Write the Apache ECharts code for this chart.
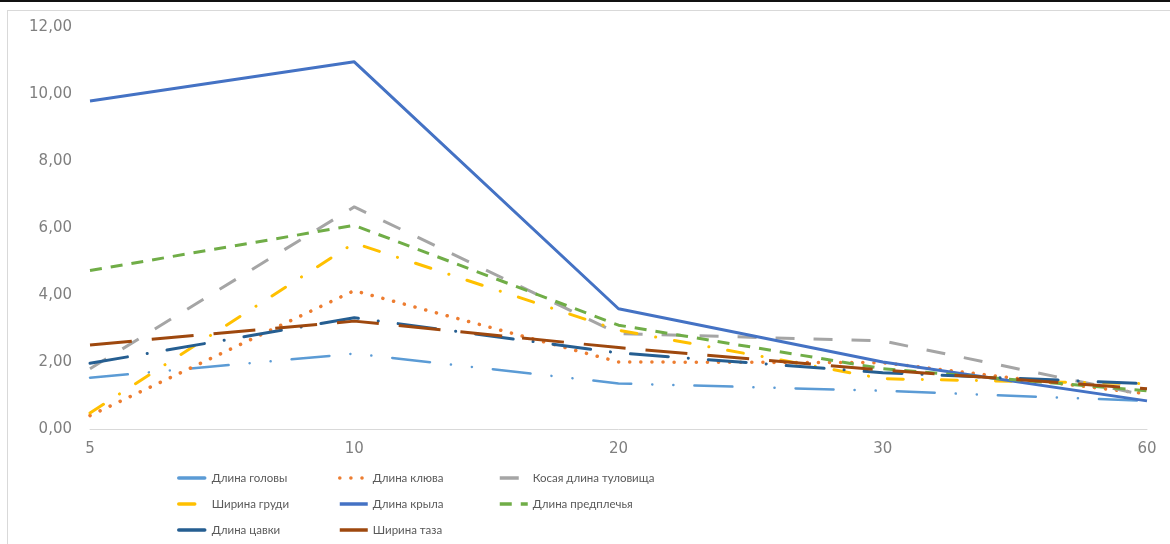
<!DOCTYPE html>
<html>
<head>
<meta charset="utf-8">
<title>Динамика промеров</title>
<script src="https://cdn.jsdelivr.net/npm/echarts@6/dist/echarts.min.js"></script>
<style>
  html, body { margin: 0; padding: 0; background: #fff; }
  #topline { position: absolute; left: 0; top: 0; width: 1170px; height: 2px; background: #111; }
  #frame { position: absolute; left: 7px; top: 10px; width: 1200px; height: 600px; border: 1px solid #d9d9d9; box-sizing: border-box; }
  #chart { position: absolute; left: 0; top: 0; width: 1170px; height: 544px; }
</style>
</head>
<body>
<div id="topline"></div>
<div id="frame"></div>
<div id="chart"></div>
<script>
// Age points (days) on the category axis
const categories = ['5', '10', '20', '30', '60'];

// Measurement series
const headLen     = [1.53, 2.25, 1.36, 1.14, 0.84];
const beakLen     = [0.40, 4.13, 2.00, 1.98, 1.05];
const bodyOblique = [1.80, 6.63, 2.85, 2.63, 1.00];
const chestWidth  = [0.48, 5.55, 2.95, 1.50, 1.35];
const wingLen     = [9.79, 10.96, 3.59, 2.00, 0.84];
const forearmLen  = [4.73, 6.08, 3.10, 1.80, 1.14];
const tarsusLen   = [1.96, 3.32, 2.27, 1.68, 1.35];
const pelvisWidth = [2.51, 3.22, 2.43, 1.76, 1.20];

// Colours and dash patterns for each series
const seriesDefs = [
  { name: 'Длина головы',         data: headLen,     color: '#5B9BD5', type: [38, 21, 0.1, 21, 0.1, 21], cap: 'round', width: 2.5 },
  { name: 'Длина клюва',          data: beakLen,     color: '#ED7D31', type: [0.1, 11],                  cap: 'round', width: 3.5 },
  { name: 'Косая длина туловища', data: bodyOblique, color: '#A5A5A5', type: [19, 19],                   cap: 'butt',  width: 3 },
  { name: 'Ширина груди',         data: chestWidth,  color: '#FFC000', type: [16, 19, 0.1, 19],          cap: 'round', width: 3 },
  { name: 'Длина крыла',          data: wingLen,     color: '#4472C4', type: 'solid',                    cap: 'butt',  width: 3 },
  { name: 'Длина предплечья',     data: forearmLen,  color: '#70AD47', type: [12, 9],                    cap: 'butt',  width: 3 },
  { name: 'Длина цавки',          data: tarsusLen,   color: '#255E91', type: [38, 20, 0.1, 20],          cap: 'round', width: 3 },
  { name: 'Ширина таза',          data: pelvisWidth, color: '#9E480E', type: [42, 20],                   cap: 'butt',  width: 3 }
];

const axisText = { color: '#7f7f7f', fontFamily: 'DejaVu Sans', fontSize: 15 };

function legendColumn(names, left, width, textPad) {
  return {
    orient: 'vertical',
    left: left,
    top: 467,
    itemWidth: width,
    itemHeight: 10,
    itemGap: 14,
    itemStyle: { opacity: 0 },
    lineStyle: { width: 3.5 },
    textStyle: { color: '#595959', fontFamily: 'Lato', fontSize: 11.5, padding: [0, 0, 0, textPad] },
    data: names
  };
}

const chart = echarts.init(document.getElementById('chart'));
chart.setOption({
  animation: false,
  backgroundColor: 'transparent',
  color: seriesDefs.map(s => s.color),
  grid: { left: 90, right: 23, top: 27, bottom: 115, containLabel: false },
  legend: [
    legendColumn(['Длина головы', 'Ширина груди', 'Длина цавки'], 172, 26, 2),
    legendColumn(['Длина клюва', 'Длина крыла', 'Ширина таза'], 333, 28, 0),
    legendColumn(['Косая длина туловища', 'Длина предплечья'], 493, 28, 0)
  ],
  xAxis: {
    type: 'category',
    data: categories,
    boundaryGap: false,
    axisLine: { lineStyle: { color: '#d9d9d9', width: 1 } },
    axisTick: { show: false },
    axisLabel: Object.assign({}, axisText, { margin: 13 }),
    splitLine: { show: false }
  },
  yAxis: {
    type: 'value',
    min: 0,
    max: 12,
    interval: 2,
    axisLine: { show: false },
    axisTick: { show: false },
    splitLine: { show: false },
    axisLabel: Object.assign({}, axisText, {
      margin: 18,
      formatter: v => v.toFixed(2).replace('.', ',')
    })
  },
  series: seriesDefs.map(s => ({
    name: s.name,
    type: 'line',
    data: s.data,
    symbol: 'none',
    smooth: false,
    lineStyle: { color: s.color, width: s.width, type: s.type, cap: s.cap, join: 'round' },
    itemStyle: { color: s.color }
  }))
});
</script>
</body>
</html>
